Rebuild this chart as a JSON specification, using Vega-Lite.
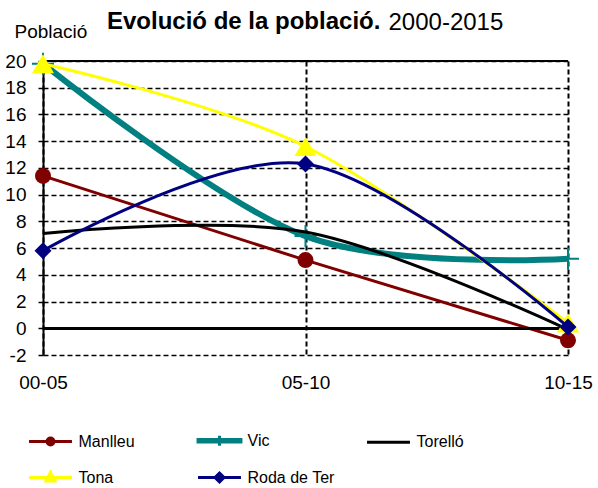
{
  "$schema": "https://vega.github.io/schema/vega-lite/v6.json",
  "autosize": "none",
  "width": 525,
  "height": 294,
  "padding": {"left": 43, "top": 61, "right": 30, "bottom": 133},
  "background": "white",
  "title": {
    "text": "Evolució de la població.",
    "anchor": "start",
    "frame": "group",
    "dx": 64,
    "dy": 47,
    "fontSize": 24,
    "fontWeight": "bold",
    "font": "Liberation Sans",
    "color": "black",
    "baseline": "alphabetic"
  },
  "data": {
    "values": [
      {"periode": "00-05", "serie": "Manlleu", "valor": 11.4},
      {"periode": "05-10", "serie": "Manlleu", "valor": 5.1},
      {"periode": "10-15", "serie": "Manlleu", "valor": -0.9},
      {"periode": "00-05", "serie": "Vic", "valor": 19.8},
      {"periode": "05-10", "serie": "Vic", "valor": 6.9},
      {"periode": "10-15", "serie": "Vic", "valor": 5.2},
      {"periode": "00-05", "serie": "Torelló", "valor": 7.1},
      {"periode": "05-10", "serie": "Torelló", "valor": 7.2},
      {"periode": "10-15", "serie": "Torelló", "valor": -0.1},
      {"periode": "00-05", "serie": "Tona", "valor": 19.8},
      {"periode": "05-10", "serie": "Tona", "valor": 13.6},
      {"periode": "10-15", "serie": "Tona", "valor": 0.4},
      {"periode": "00-05", "serie": "Roda de Ter", "valor": 5.8},
      {"periode": "05-10", "serie": "Roda de Ter", "valor": 12.3},
      {"periode": "10-15", "serie": "Roda de Ter", "valor": 0.1}
    ]
  },
  "resolve": {"axis": {"x": "independent"}},
  "layer": [
    {
      "transform": [{"filter": "datum.serie === 'Manlleu'"}],
      "mark": {"type": "line", "color": "#800000", "strokeWidth": 3},
      "encoding": {
        "x": {"field": "periode", "type": "ordinal", "scale": {"type": "point", "padding": 0, "domain": ["00-05", "05-10", "10-15"]},
          "axis": {"orient": "bottom", "title": null, "labelAngle": 0, "ticks": false, "domain": false, "grid": true, "gridDash": [5, 3], "gridWidth": 2, "gridColor": "black", "gridOpacity": 1, "labelFontSize": 19, "labelPadding": 18, "labelColor": "black"}},
        "y": {"field": "valor", "type": "quantitative", "title": "Població", "scale": {"domain": [-2, 20], "nice": false, "zero": false},
          "axis": {"values": [-2, 0, 2, 4, 6, 8, 10, 12, 14, 16, 18, 20], "tickCount": 12, "labelOverlap": false, "labelExpr": "'' + datum.value", "grid": true, "gridDash": [5, 3], "gridWidth": 1.5, "gridColor": "black", "gridOpacity": 1, "domainColor": "black", "domainWidth": 2, "tickColor": "black", "tickSize": 5, "tickWidth": 1.5, "labelFontSize": 19, "labelPadding": 12, "labelColor": "black", "titleAngle": 0, "titleX": -29, "titleY": -24, "titleAlign": "left", "titleBaseline": "alphabetic", "titleFontSize": 19, "titleFontWeight": "normal", "titleColor": "black"}}
      }
    },
    {
      "mark": {"type": "rule", "color": "black", "strokeWidth": 2},
      "encoding": {"y": {"datum": 0, "type": "quantitative", "title": "Població"}}
    },
    {
      "mark": {"type": "rule", "color": "black", "strokeWidth": 2},
      "encoding": {"y": {"datum": 20, "type": "quantitative", "title": "Població"}}
    },
    {
      "transform": [{"filter": "datum.serie === 'Manlleu'"}],
      "mark": {"type": "point", "shape": "circle", "size": 256, "filled": true, "color": "#800000", "opacity": 1},
      "encoding": {
        "x": {"field": "periode", "type": "ordinal", "axis": null},
        "y": {"field": "valor", "type": "quantitative", "title": "Població"}
      }
    },
    {
      "transform": [{"filter": "datum.serie === 'Vic'"}],
      "mark": {"type": "line", "color": "#008080", "strokeWidth": 6, "interpolate": "cardinal"},
      "encoding": {
        "x": {"field": "periode", "type": "ordinal", "axis": null},
        "y": {"field": "valor", "type": "quantitative", "title": "Població"}
      }
    },
    {
      "transform": [{"filter": "datum.serie === 'Vic'"}],
      "mark": {"type": "point", "shape": "M-1,0H1M0,-1V1", "size": 484, "filled": false, "color": "#008080", "strokeWidth": 2, "opacity": 1},
      "encoding": {
        "x": {"field": "periode", "type": "ordinal", "axis": null},
        "y": {"field": "valor", "type": "quantitative", "title": "Població"}
      }
    },
    {
      "transform": [{"filter": "datum.serie === 'Torelló'"}],
      "mark": {"type": "line", "color": "black", "strokeWidth": 3, "interpolate": "cardinal"},
      "encoding": {
        "x": {"field": "periode", "type": "ordinal", "axis": null},
        "y": {"field": "valor", "type": "quantitative", "title": "Població"}
      }
    },
    {
      "transform": [{"filter": "datum.serie === 'Tona'"}],
      "mark": {"type": "line", "color": "#FFFF00", "strokeWidth": 3, "interpolate": "cardinal"},
      "encoding": {
        "x": {"field": "periode", "type": "ordinal", "axis": null},
        "y": {"field": "valor", "type": "quantitative", "title": "Població"}
      }
    },
    {
      "transform": [{"filter": "datum.serie === 'Tona'"}],
      "mark": {"type": "point", "shape": "triangle-up", "size": 484, "filled": true, "color": "#FFFF00", "opacity": 1},
      "encoding": {
        "x": {"field": "periode", "type": "ordinal", "axis": null},
        "y": {"field": "valor", "type": "quantitative", "title": "Població"}
      }
    },
    {
      "transform": [{"filter": "datum.serie === 'Roda de Ter'"}],
      "mark": {"type": "line", "color": "#000080", "strokeWidth": 3, "interpolate": "cardinal"},
      "encoding": {
        "x": {"field": "periode", "type": "ordinal", "axis": null},
        "y": {"field": "valor", "type": "quantitative", "title": "Població"}
      }
    },
    {
      "transform": [{"filter": "datum.serie === 'Roda de Ter'"}],
      "mark": {"type": "point", "shape": "diamond", "size": 289, "filled": true, "color": "#000080", "opacity": 1},
      "encoding": {
        "x": {"field": "periode", "type": "ordinal", "axis": null},
        "y": {"field": "valor", "type": "quantitative", "title": "Població"}
      }
    },
    {
      "mark": {"type": "point", "opacity": 0},
      "encoding": {
        "x": {"field": "periode", "type": "ordinal",
          "axis": {"orient": "top", "labels": false, "ticks": false, "domain": false, "grid": false, "title": "2000-2015", "titleX": 345, "titleY": -32, "titleAlign": "left", "titleBaseline": "alphabetic", "titleFontSize": 24, "titleFontWeight": "normal", "titleColor": "black", "titleAngle": 0}},
        "y": {"field": "valor", "type": "quantitative", "title": "Població"}
      }
    },
    {
      "transform": [{"filter": "false"}],
      "mark": {"type": "point", "filled": true, "size": 900, "strokeWidth": 3, "opacity": 1},
      "encoding": {
        "fill": {"field": "serie", "type": "nominal", "title": null,
          "scale": {"domain": ["Manlleu", "Vic", "Torelló", "Tona", "Roda de Ter"], "range": ["#800000", "#008080", "#000000", "#FFFF00", "#000080"]},
          "legend": {"orient": "none", "direction": "horizontal", "legendX": -9, "legendY": 363, "columns": 3, "gridAlign": "all", "columnPadding": 26, "rowPadding": 9, "labelFontSize": 16, "labelColor": "black", "labelOffset": 11.5, "symbolSize": 900, "symbolStrokeWidth": 3, "padding": 0, "labelFont": "Liberation Sans"}},
        "stroke": {"field": "serie", "type": "nominal", "title": null,
          "scale": {"domain": ["Manlleu", "Vic", "Torelló", "Tona", "Roda de Ter"], "range": ["#800000", "#008080", "#000000", "#FFFF00", "#000080"]},
          "legend": {"orient": "none", "direction": "horizontal", "legendX": -9, "legendY": 363, "columns": 3, "gridAlign": "all", "columnPadding": 26, "rowPadding": 9, "labelFontSize": 16, "labelColor": "black", "labelOffset": 11.5, "symbolSize": 900, "symbolStrokeWidth": 3, "padding": 0, "labelFont": "Liberation Sans"}},
        "shape": {"field": "serie", "type": "nominal", "title": null,
          "scale": {"domain": ["Manlleu", "Vic", "Torelló", "Tona", "Roda de Ter"], "range": [
            "M-1.43,0H1.43M-0.23,0A0.23,0.23 0 1,0 0.23,0A0.23,0.23 0 1,0 -0.23,0Z",
            "M-1.43,-0.08H1.43V0.08H-1.43ZM0,-0.33V0.33",
            "M-1.43,0H1.43",
            "M-1.43,0H1.43M-0.3,0.23L0,-0.33L0.3,0.23Z",
            "M-1.43,0H1.43M-0.3,0L0,-0.3L0.3,0L0,0.3Z"
          ]},
          "legend": {"orient": "none", "direction": "horizontal", "legendX": -9, "legendY": 363, "columns": 3, "gridAlign": "all", "columnPadding": 26, "rowPadding": 9, "labelFontSize": 16, "labelColor": "black", "labelOffset": 11.5, "symbolSize": 900, "symbolStrokeWidth": 3, "padding": 0, "labelFont": "Liberation Sans"}}
      }
    }
  ],
  "config": {
    "font": "Liberation Sans",
    "view": {"stroke": null}
  }
}
